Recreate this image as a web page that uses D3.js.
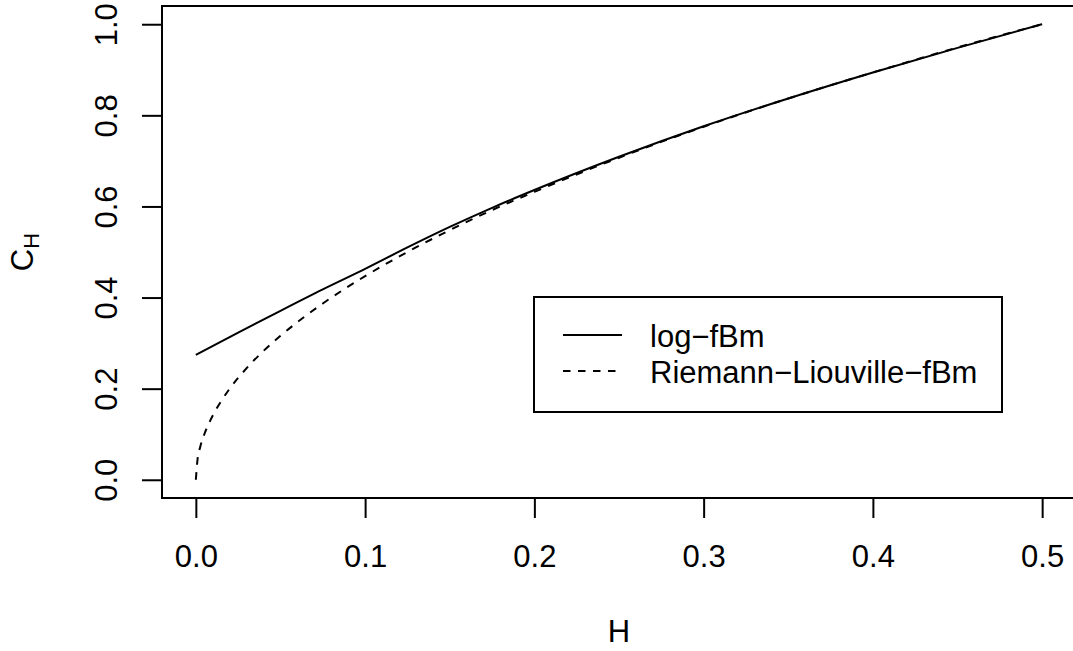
<!DOCTYPE html>
<html>
<head>
<meta charset="utf-8">
<script src="https://cdn.jsdelivr.net/npm/d3@7"></script>
<style>
  html, body { margin: 0; padding: 0; background: #fff; }
  svg { display: block; }
  text { font-family: "Liberation Sans", Arial, Helvetica, sans-serif; fill: #000; }
</style>
</head>
<body>
<svg id="chart" width="1073" height="651"></svg>
<script>
// ---- data ----
const logH   = [0, 0.025, 0.05, 0.075, 0.1, 0.125, 0.15, 0.175, 0.2, 0.25, 0.3, 0.35, 0.4, 0.45, 0.5];
const logC   = [0.274, 0.323, 0.371, 0.418, 0.463, 0.510, 0.555, 0.597, 0.636, 0.709, 0.776, 0.837, 0.894, 0.948, 1.0];
const rlH    = [0, 0.001, 0.0025, 0.005, 0.0075, 0.01, 0.015, 0.02, 0.03, 0.04, 0.05, 0.075, 0.1, 0.125, 0.15, 0.175, 0.2, 0.25, 0.3, 0.35, 0.4, 0.45, 0.5];
const rlC    = [0, 0.045, 0.071, 0.100, 0.122, 0.141, 0.173, 0.200, 0.245, 0.283, 0.316, 0.387, 0.447, 0.500, 0.548, 0.592, 0.632, 0.707, 0.775, 0.837, 0.894, 0.949, 1.0];
const xTicks = [0, 0.1, 0.2, 0.3, 0.4, 0.5];
const yTicks = [0, 0.2, 0.4, 0.6, 0.8, 1.0];
const legendLabels = ["log\u2212fBm", "Riemann\u2212Liouville\u2212fBm"];
const xTitle = "H";

(function () {
// ---- layout ----
const svg = d3.select("#chart");
const pL = 162, pR = 1076, pT = 6, pB = 498;
const FS = 31;
const x = d3.scaleLinear().domain([-0.02, 0.52]).range([pL, pR]);
const y = d3.scaleLinear().domain([-0.04, 1.04]).range([pB, pT]);

// plot box
svg.append("rect")
  .attr("x", pL).attr("y", pT)
  .attr("width", pR - pL).attr("height", pB - pT)
  .attr("fill", "none").attr("stroke", "#000").attr("stroke-width", 2);

// x axis
const gx = svg.append("g").attr("transform", `translate(0,${pB})`)
  .call(d3.axisBottom(x).tickValues(xTicks).tickFormat(d3.format(".1f")).tickSize(20));
gx.select(".domain").remove();
gx.selectAll(".tick line").attr("stroke", "#000").attr("stroke-width", 2);
gx.selectAll(".tick text").attr("y", 567 - pB).attr("dy", 0)
  .style("font-size", FS + "px").attr("fill", "#000");
gx.append("line").attr("x1", x(xTicks[0])).attr("x2", x(xTicks[xTicks.length - 1]))
  .attr("stroke", "#000").attr("stroke-width", 2);

// y axis
const gy = svg.append("g").attr("transform", `translate(${pL},0)`)
  .call(d3.axisLeft(y).tickValues(yTicks).tickFormat(d3.format(".1f")).tickSize(20));
gy.select(".domain").remove();
gy.selectAll(".tick line").attr("stroke", "#000").attr("stroke-width", 2);
gy.selectAll(".tick text")
  .attr("transform", "rotate(-90)")
  .attr("x", 0).attr("y", 117 - pL).attr("dy", 0)
  .attr("text-anchor", "middle")
  .style("font-size", FS + "px").attr("fill", "#000");
gy.append("line").attr("y1", y(yTicks[0])).attr("y2", y(yTicks[yTicks.length - 1]))
  .attr("stroke", "#000").attr("stroke-width", 2);

// axis titles
svg.append("text")
  .attr("x", (pL + pR) / 2).attr("y", 642)
  .attr("text-anchor", "middle").style("font-size", FS + "px")
  .text(xTitle);

const yt = svg.append("text")
  .attr("transform", `translate(33,${(pT + pB) / 2}) rotate(-90)`)
  .attr("text-anchor", "middle").style("font-size", FS + "px");
yt.append("tspan").text("C");
yt.append("tspan").attr("dy", 6).style("font-size", Math.round(FS * 0.7) + "px").text("H");

// lines
const line = d3.line().x(d => x(d[0])).y(d => y(d[1])).curve(d3.curveMonotoneX);
svg.append("path")
  .datum(logH.map((h, i) => [h, logC[i]]))
  .attr("d", line).attr("fill", "none")
  .attr("stroke", "#000").attr("stroke-width", 2);
svg.append("path")
  .datum(rlH.map((h, i) => [h, rlC[i]]))
  .attr("d", line).attr("fill", "none")
  .attr("stroke", "#000").attr("stroke-width", 2)
  .attr("stroke-dasharray", "7.5,7.5");

// legend
const lg = svg.append("g");
lg.append("rect").attr("x", 534).attr("y", 297).attr("width", 1002 - 534).attr("height", 412 - 297)
  .attr("fill", "#fff").attr("stroke", "#000").attr("stroke-width", 2);
const dashes = [null, "7.5,7.5"];
legendLabels.forEach((lab, i) => {
  const ly = 335 + i * 36;
  lg.append("line").attr("x1", 563).attr("x2", 622).attr("y1", ly).attr("y2", ly)
    .attr("stroke", "#000").attr("stroke-width", 2)
    .attr("stroke-dasharray", dashes[i]);
  lg.append("text").attr("x", 650).attr("y", ly + 12)
    .style("font-size", FS + "px").text(lab);
});
})();
</script>
</body>
</html>
